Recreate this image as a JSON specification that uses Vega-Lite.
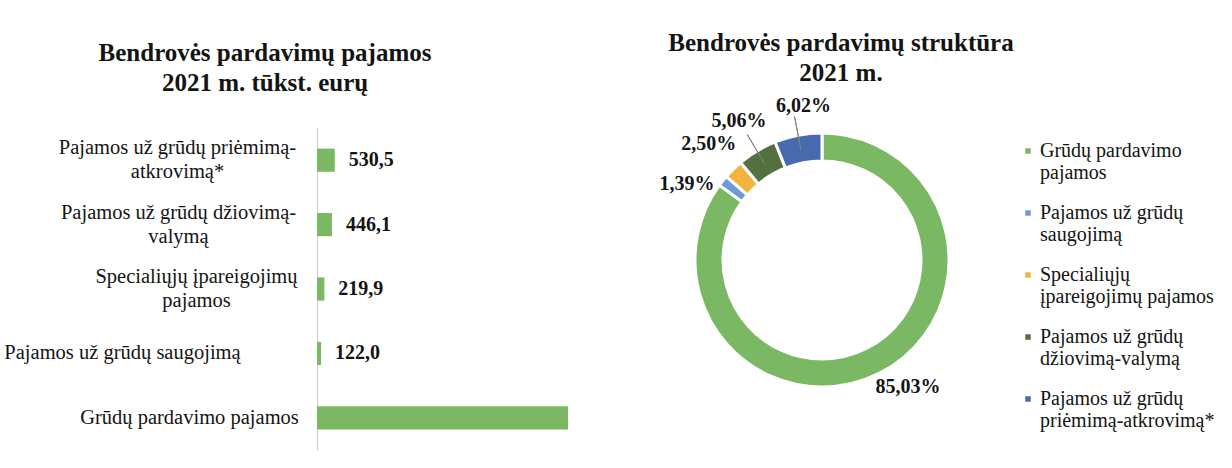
{
  "$schema": "https://vega.github.io/schema/vega-lite/v6.json",
  "background": "white",
  "padding": {"left": 3, "top": 30, "right": 5, "bottom": 5},
  "bounds": "flush",
  "spacing": 89,
  "config": {"view": {"stroke": null}, "font": "Liberation Serif"},
  "datasets": {
    "bars": [
      {"cat": "Pajamos už grūdų priėmimą-|atkrovimą*", "value": 530.5, "label": "530,5"},
      {"cat": "Pajamos už grūdų džiovimą-|valymą", "value": 446.1, "label": "446,1"},
      {"cat": "Specialiųjų įpareigojimų|pajamos", "value": 219.9, "label": "219,9"},
      {"cat": "Pajamos už grūdų saugojimą", "value": 122.0, "label": "122,0"},
      {"cat": "Grūdų pardavimo pajamos", "value": 7487, "label": ""}
    ],
    "shares": [
      {"idx": 1, "name": "Grūdų pardavimo|pajamos", "pct": 85.03, "label": "85,03%"},
      {"idx": 2, "name": "Pajamos už grūdų|saugojimą", "pct": 1.39, "label": "1,39%"},
      {"idx": 3, "name": "Specialiųjų|įpareigojimų pajamos", "pct": 2.50, "label": "2,50%"},
      {"idx": 4, "name": "Pajamos už grūdų|džiovimą-valymą", "pct": 5.06, "label": "5,06%"},
      {"idx": 5, "name": "Pajamos už grūdų|priėmimą-atkrovimą*", "pct": 6.02, "label": "6,02%"}
    ]
  },
  "hconcat": [
    {
      "title": {"text": ["Bendrovės pardavimų pajamos", "2021 m. tūkst. eurų"], "fontSize": 25, "fontWeight": "bold", "font": "Liberation Serif", "lineHeight": 30, "anchor": "middle", "frame": "group", "dx": -197, "offset": 32, "color": "#141414"},
      "data": {"name": "bars"},
      "width": 290,
      "height": 322,
      "encoding": {
        "y": {"field": "cat", "type": "nominal", "sort": null, "scale": {"paddingInner": 0.64, "paddingOuter": 0.32},
          "axis": {"title": null, "ticks": false, "domain": true, "domainColor": "#c8c8c8", "domainWidth": 1, "labelExpr": "split(datum.label, '|')", "labelAlign": "center", "labelFontSize": 20.5, "labelFont": "Liberation Serif", "labelColor": "#141414", "labelLineHeight": 24, "labelLimit": 400,
            "labelPadding": {"condition": [
              {"test": "indexof(datum.label, 'priėmimą') >= 0", "value": 140},
              {"test": "indexof(datum.label, 'džiovimą') >= 0", "value": 139},
              {"test": "indexof(datum.label, 'Specialiųjų') >= 0", "value": 121},
              {"test": "indexof(datum.label, 'saugojimą') >= 0", "value": 195}
            ], "value": 128},
            "labelOffset": {"condition": {"test": "indexof(datum.label, '|') >= 0", "value": -12}, "value": 0}}},
        "x": {"field": "value", "type": "quantitative", "scale": {"domain": [0, 8650]}, "axis": null}
      },
      "layer": [
        {"mark": {"type": "bar", "color": "#7ab863"}},
        {"mark": {"type": "text", "align": "left", "baseline": "middle", "dx": 14, "fontSize": 20, "fontWeight": "bold", "font": "Liberation Serif", "color": "#141414"}, "encoding": {"text": {"field": "label"}}}
      ]
    },
    {
      "title": {"text": ["Bendrovės pardavimų struktūra", "2021 m."], "fontSize": 25, "fontWeight": "bold", "font": "Liberation Serif", "lineHeight": 30, "anchor": "middle", "frame": "group", "dx": 19, "offset": 5, "color": "#141414"},
      "data": {"name": "shares"},
      "width": 252,
      "height": 264,
      "encoding": {
        "theta": {"field": "pct", "type": "quantitative", "stack": true},
        "order": {"field": "idx", "type": "quantitative"}
      },
      "layer": [
        {
          "mark": {"type": "arc", "innerRadius": 99, "outerRadius": 127, "stroke": "white", "strokeWidth": 3},
          "encoding": {
            "color": {"field": "name", "type": "nominal", "sort": null,
              "scale": {"domain": ["Grūdų pardavimo|pajamos", "Pajamos už grūdų|saugojimą", "Specialiųjų|įpareigojimų pajamos", "Pajamos už grūdų|džiovimą-valymą", "Pajamos už grūdų|priėmimą-atkrovimą*"], "range": ["#7ab863", "#6e9bd6", "#f3b33d", "#55703f", "#4769ad"]},
              "legend": {"title": null, "orient": "right", "offset": -9, "padding": 13, "labelExpr": "split(datum.label, '|')", "labelFontSize": 20, "labelFont": "Liberation Serif", "labelColor": "#141414", "labelLineHeight": 24, "symbolType": "square", "symbolSize": 30, "symbolStrokeWidth": 0, "rowPadding": 20, "labelOffset": 2, "labelLimit": 300}}
          }
        },
        {
          "mark": {"type": "arc", "innerRadius": 112, "outerRadius": 146, "padAngle": 0.6, "fill": "transparent", "strokeWidth": 1},
          "encoding": {
            "stroke": {"condition": {"test": "datum.pct > 4 && datum.pct < 10", "value": "#7f7f7f"}, "value": null}
          }
        },
        {
          "mark": {"type": "text", "radius": 162, "fontSize": 20, "fontWeight": "bold", "font": "Liberation Serif", "color": "#141414", "align": "center", "baseline": "middle"},
          "encoding": {"text": {"condition": {"test": "datum.pct > 2 && datum.pct < 5.5", "field": "label"}, "value": ""}}
        },
        {
          "mark": {"type": "text", "radius": 162, "dx": 12, "dy": 5, "fontSize": 20, "fontWeight": "bold", "font": "Liberation Serif", "color": "#141414", "align": "center", "baseline": "middle"},
          "encoding": {"text": {"condition": {"test": "datum.pct > 5.5 && datum.pct < 10", "field": "label"}, "value": ""}}
        },
        {
          "mark": {"type": "text", "radius": 155, "dx": -14, "dy": 21, "fontSize": 20, "fontWeight": "bold", "font": "Liberation Serif", "color": "#141414", "align": "center", "baseline": "middle"},
          "encoding": {"text": {"condition": {"test": "datum.pct < 2", "field": "label"}, "value": ""}}
        },
        {
          "mark": {"type": "text", "radius": 150, "dx": 18, "dy": -7, "fontSize": 20, "fontWeight": "bold", "font": "Liberation Serif", "color": "#141414", "align": "center", "baseline": "middle"},
          "encoding": {"text": {"condition": {"test": "datum.pct > 50", "field": "label"}, "value": ""}}
        }
      ]
    }
  ]
}
